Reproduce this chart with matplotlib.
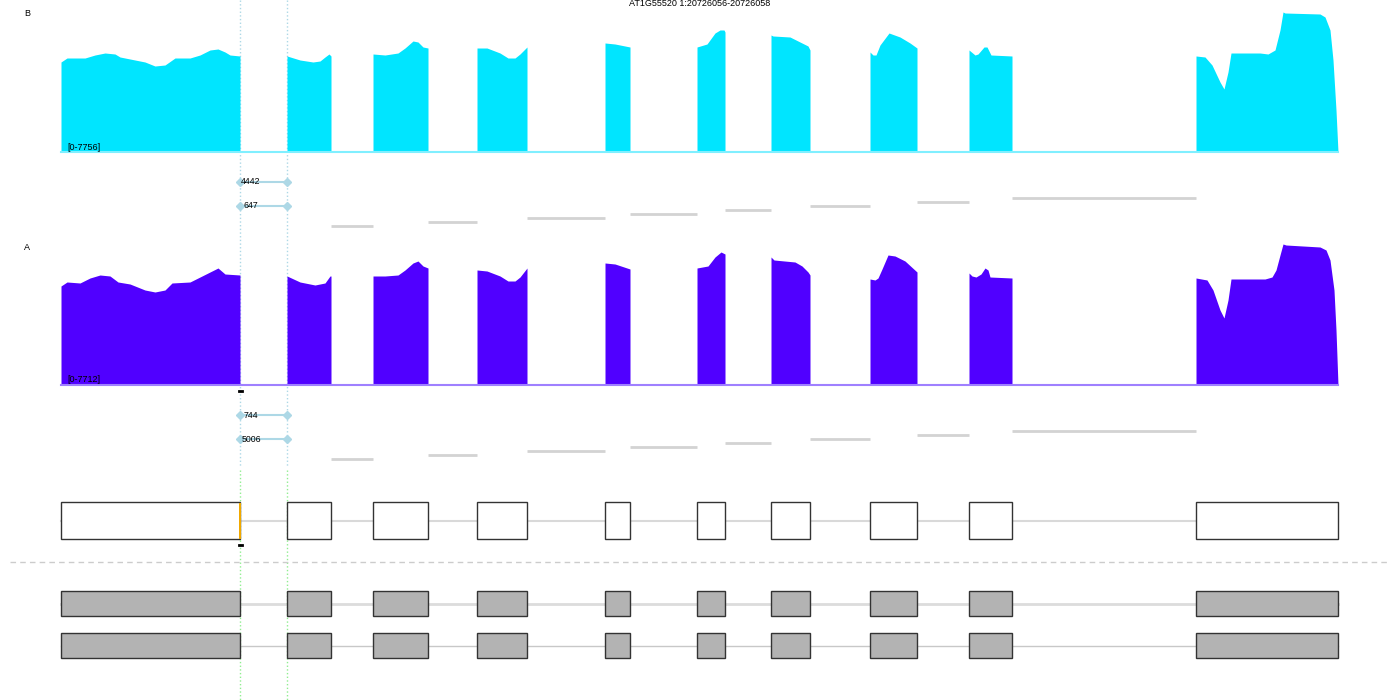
import numpy as np
import matplotlib.pyplot as plt
from matplotlib.patches import Rectangle

plt.rcParams['font.family'] = ['Liberation Sans', 'DejaVu Sans']

title = "AT1G55520 1:20726056-20726058"

# exon positions (track coordinates)
exon_starts = [61, 287, 373, 477, 605, 697, 771, 870, 969, 1196]
exon_ends = [240, 331, 428, 527, 630, 725, 810, 917, 1012, 1338]

# coverage sample B, range 0-7756
cov_b_max = 7756
cov_b_x = [
    [61, 67, 85, 95, 105, 115, 120, 130, 145, 155, 165, 175, 190, 200, 210, 218, 225, 230, 240],
    [287, 300, 313, 320, 325, 329, 331],
    [373, 385, 398, 405, 413, 418, 423, 428],
    [477, 487, 500, 508, 515, 520, 527],
    [605, 615, 630],
    [697, 707, 715, 720, 724, 725],
    [771, 773, 790, 800, 808, 810],
    [870, 873, 876, 880, 889, 900, 910, 917],
    [969, 975, 978, 984, 987, 991, 1012],
    [1196, 1205, 1212, 1220, 1224, 1228, 1231, 1260, 1268, 1275, 1280, 1283, 1285, 1320, 1325, 1330, 1333, 1336, 1338],
]
cov_b_v = [
    [4916, 5134, 5134, 5298, 5407, 5353, 5189, 5080, 4916, 4697, 4752, 5134, 5134, 5298, 5571, 5626, 5462, 5298, 5244],
    [5244, 5025, 4916, 4970, 5189, 5353, 5244],
    [5353, 5298, 5407, 5680, 6063, 6008, 5735, 5680],
    [5680, 5680, 5407, 5134, 5134, 5353, 5735],
    [5954, 5899, 5735],
    [5735, 5899, 6500, 6664, 6664, 6554],
    [6391, 6336, 6281, 6008, 5790, 5571],
    [5462, 5298, 5298, 5844, 6500, 6281, 5954, 5680],
    [5571, 5298, 5353, 5735, 5735, 5298, 5244],
    [5244, 5189, 4752, 3823, 3441, 4370, 5407, 5407, 5353, 5571, 6664, 7647, 7592, 7538, 7374, 6664, 5025, 2294, 0],
]

# coverage sample A, range 0-7712
cov_a_max = 7712
cov_a_x = [
    [61, 67, 80, 90, 100, 110, 118, 130, 145, 155, 165, 172, 190, 200, 210, 218, 225, 240],
    [287, 300, 315, 325, 330, 331],
    [373, 385, 398, 405, 413, 418, 423, 428],
    [477, 487, 500, 508, 515, 520, 527],
    [605, 615, 630],
    [697, 708, 715, 721, 725],
    [771, 774, 795, 802, 808, 810],
    [870, 875, 878, 882, 888, 895, 905, 917],
    [969, 972, 976, 981, 985, 988, 990, 1012],
    [1196, 1207, 1213, 1220, 1224, 1228, 1231, 1265, 1272, 1276, 1280, 1283, 1286, 1320, 1326, 1330, 1334, 1336, 1338],
]
cov_a_v = [
    [5377, 5594, 5540, 5811, 5974, 5920, 5594, 5485, 5159, 5051, 5159, 5540, 5594, 5865, 6137, 6354, 6028, 5974],
    [5920, 5594, 5431, 5540, 5920, 5920],
    [5920, 5920, 5974, 6246, 6626, 6734, 6463, 6354],
    [6246, 6191, 5920, 5648, 5648, 5865, 6354],
    [6626, 6572, 6300],
    [6354, 6463, 6952, 7223, 7115],
    [6952, 6789, 6680, 6463, 6137, 5974],
    [5757, 5703, 5811, 6300, 7060, 7006, 6734, 6137],
    [6083, 5920, 5865, 6028, 6354, 6246, 5865, 5811],
    [5811, 5703, 5159, 4073, 3639, 4616, 5757, 5757, 5865, 6246, 7060, 7658, 7603, 7495, 7332, 6789, 5159, 2987, 0],
]

# selected junction (intron 1) and its read counts per strand row
junction = (240, 287)
junc_b_counts = [4442, 647]
junc_a_counts = [744, 5006]

W, H = 1400, 700
fig = plt.figure(figsize=(14, 7), dpi=100)

ov = fig.add_axes([0, 0, 1, 1])
ov.set_xlim(0, W)
ov.set_ylim(H, 0)
ov.axis('off')


def cov_track(top, bottom, xs, vs, vmax, color, base_color):
    ax = fig.add_axes([0, 1 - bottom / H, 1, (bottom - top) / H])
    ax.set_xlim(0, W)
    ax.set_ylim(0, vmax)
    ax.patch.set_alpha(0)
    ax.axis('off')
    ax.plot([exon_starts[0], exon_ends[-1]], [0, 0], color=base_color, lw=1.5, clip_on=False)
    for x, v in zip(xs, vs):
        ax.fill_between(x, 0, v, color=color, lw=0)
    return ax


# vertical guide lines at the junction ends
for jx in junction:
    ov.plot([jx, jx], [0, 466], color='#add8e6', ls=':', lw=1)
    ov.plot([jx, jx], [470, H], color='#90ee90', ls=':', lw=1)

ov.text(W / 2, 4, title, fontsize=6.5, ha='center', va='center')

# two samples: label, coverage and junction track, vertical offset
samples = [
    ('B', cov_b_x, cov_b_v, cov_b_max, '#00e5ff', '#80efff', junc_b_counts, 0),
    ('A', cov_a_x, cov_a_v, cov_a_max, '#5000ff', '#9f80ff', junc_a_counts, 233),
]
for name, xs, vs, vmax, col, bcol, counts, off in samples:
    ov.text(27, 14 + off, name, fontsize=6.5, ha='center', va='center')
    ax = cov_track(10 + off, 152 + off, xs, vs, vmax, col, bcol)
    ax.text(67, 147 + off, '[0-%d]' % vmax, fontsize=6.5, ha='left', va='center',
            transform=ov.transData)
    # highlighted junction rows
    for k, c in enumerate(counts):
        y = 182 + 24 * k + off
        ov.plot(list(junction), [y, y], color='#add8e6', lw=1.5, marker='D', ms=4, mec='#add8e6')
        ov.text(junction[0] + 11, y, str(c), fontsize=6.3, ha='center', va='center')
    # other introns, stacked
    for i in range(1, len(exon_starts) - 1):
        y = 226 - 4 * (i - 1) + off
        ov.plot([exon_ends[i], exon_starts[i + 1]], [y, y], color='#d3d3d3', lw=2,
                solid_capstyle='butt')

# small position marks
for y in (391, 545):
    ov.plot([junction[0] - 1.5, junction[0] + 1.5], [y, y], color='black', lw=2)

# gene model
ov.plot([exon_starts[0], exon_ends[-1]], [521, 521], color='#d9d9d9', lw=1.5, zorder=1)
for s, e in zip(exon_starts, exon_ends):
    ov.add_patch(Rectangle((s, 502), e - s, 37, fc='white', ec='#333333', lw=1, zorder=2))
ov.add_patch(Rectangle((junction[0] - 1, 503), 2, 36, fc='#f0a800', ec='none', zorder=3))

# separator
ov.plot([10, 1390], [562, 562], color='#cccccc', ls=(0, (4, 3)), lw=1)

# transcripts
for yc, lcol, lw in ((603.5, '#dcdcdc', 2), (645.5, '#c8c8c8', 1)):
    ov.plot([exon_starts[0], exon_ends[-1]], [yc, yc], color=lcol, lw=lw, zorder=1)
    for s, e in zip(exon_starts, exon_ends):
        ov.add_patch(Rectangle((s, yc - 12.5), e - s, 25, fc='#b3b3b3', ec='#333333', lw=1, zorder=2))

fig.savefig('out.png', dpi=100)
